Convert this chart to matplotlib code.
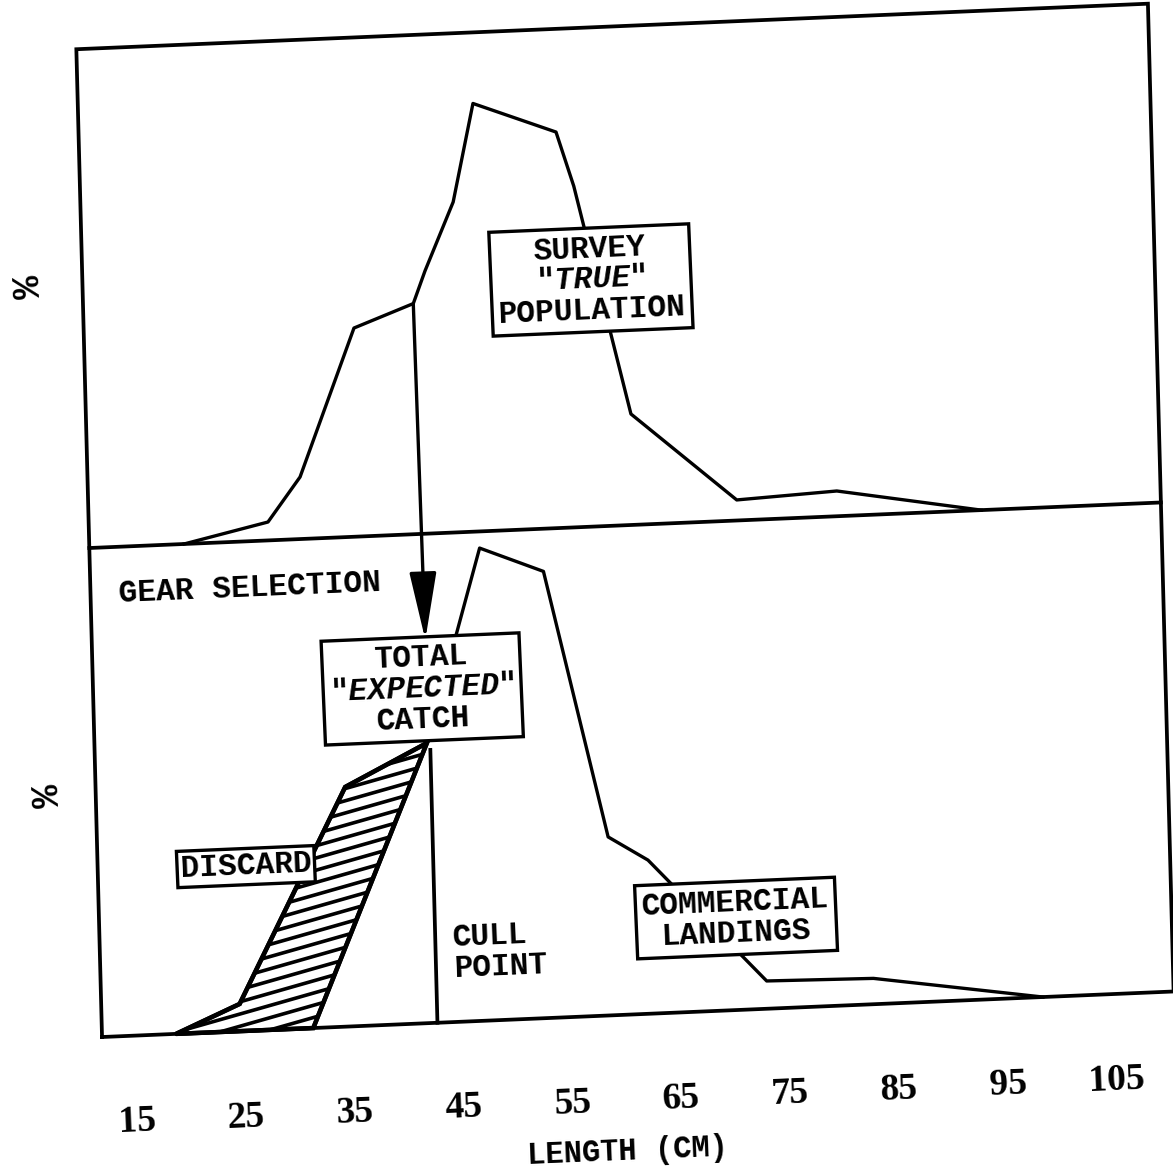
import numpy as np
import matplotlib
matplotlib.use("Agg")
import matplotlib.pyplot as plt
from matplotlib.transforms import Affine2D
from matplotlib.patches import Polygon

# ---------------- data (length in cm, percent) ----------------
survey_len = [20.7, 28.45, 31.5, 36.8, 42.3, 43.45, 46.2, 48.25, 55.8, 57.3, 62.0, 71.5, 80.7, 93.9]
survey_pct = [0.0, 0.94, 3.17, 10.66, 11.78, 13.42, 16.88, 21.87, 20.23, 17.43, 5.67, 1.05, 1.29, 0.0]

catch_len = [18.8, 24.7, 34.9, 42.5, 47.8, 53.6, 58.9, 62.5, 73.1, 82.9, 98.4]
catch_pct = [0.0, 1.39, 12.24, 14.31, 24.15, 22.82, 9.12, 7.85, 1.42, 1.32, 0.0]

discard_edge_len = [42.5, 31.4]
discard_edge_pct = [14.31, 0.0]

cull_point = 42.8
cull_top_pct = 13.95
arrow_end_len = 42.6
arrow_end_pct = 19.58

tick_values = [15, 25, 35, 45, 55, 65, 75, 85, 95, 105]

PANEL = 25.0          # height of one panel in %
TOP = 50.5
XMIN, XMAX = 12.0, 110.4

# ---------------- style ----------------
plt.rcParams['mathtext.fontset'] = 'custom'
plt.rcParams['mathtext.rm'] = 'Liberation Mono:bold'
plt.rcParams['mathtext.it'] = 'Liberation Mono:italic:bold'
plt.rcParams['mathtext.bf'] = 'Liberation Mono:bold'

fig = plt.figure(figsize=(11.73, 11.71), dpi=100)
ax = fig.add_axes([0, 0, 1, 1])
ax.set_xlim(0, 1173)
ax.set_ylim(1171, 0)
ax.axis('off')

# the scanned page is slightly tilted: chart coords (cm, %) -> page
T = Affine2D.from_values(10.89, -0.4628, -0.5086, -19.56, -28.65, 1042.57) + ax.transData
ANG = 2.43

LW = 2.4
# frame and divider
ax.plot([XMIN, XMAX, XMAX, XMIN, XMIN], [0, 0, TOP, TOP, 0], color='k', lw=2.7,
        transform=T, solid_joinstyle='miter', zorder=2)
ax.plot([XMIN, XMAX], [PANEL, PANEL], color='k', lw=2.7, transform=T, zorder=2)

# survey ("true") population in upper panel
ax.plot(survey_len, np.array(survey_pct) + PANEL, color='k', lw=LW, transform=T, zorder=3)

# total expected catch in lower panel
ax.plot(catch_len, catch_pct, color='k', lw=LW, transform=T, zorder=3)

# discard region (hatched)
n_disc = 4
poly_pts = list(zip(catch_len[:n_disc], catch_pct[:n_disc])) + \
    list(zip(discard_edge_len[1:], discard_edge_pct[1:]))
disc = Polygon(poly_pts, closed=True, fc='white', ec='k', lw=LW + 0.8,
               transform=T, zorder=3.5)
ax.add_patch(disc)
uu = np.array([14.0, 48.0])
for c in np.arange(-8, 18, 0.62):
    ln, = ax.plot(uu, c + 0.134 * (uu - 14.0), color='k', lw=2.6, transform=T, zorder=3.6)
    ln.set_clip_path(disc)
ax.add_patch(Polygon(poly_pts, closed=True, fill=False, ec='k', lw=LW + 0.8,
                     transform=T, zorder=3.7))

# cull point line
ax.plot([cull_point, cull_point], [0, cull_top_pct], color='k', lw=LW + 0.3,
        transform=T, zorder=3)

# gear selection arrow
ax.annotate('', xy=(arrow_end_len, arrow_end_pct),
            xytext=(survey_len[4], survey_pct[4] + PANEL),
            xycoords=T, textcoords=T,
            arrowprops=dict(arrowstyle='-|>,head_length=2.1,head_width=0.42',
                            color='k', lw=LW, shrinkA=0, shrinkB=0,
                            mutation_scale=20),
            zorder=4)

# ---------------- text ----------------
FS = 22.5
tk = dict(family='Liberation Mono', weight='bold', fontsize=FS, transform=T,
          rotation=ANG, rotation_mode='anchor', ha='center', va='center',
          linespacing=1.03, zorder=6)
box = dict(boxstyle='square,pad=0.2', fc='white', ec='k', lw=2.4)

ax.text(58.65, 37.6, 'SURVEY\n"$\\mathit{TRUE}$"\nPOPULATION', bbox=box,
        multialignment='center', **tk)
ax.text(26.6, 22.6, 'GEAR SELECTION', **tk)
ax.text(42.2, 17.08, 'TOTAL\n"$\\mathit{EXPECTED}$"\nCATCH', bbox=box,
        multialignment='center', **tk)
ax.text(25.6, 8.39, 'DISCARD', bbox=dict(boxstyle='square,pad=0.1', fc='white',
                                          ec='k', lw=2.4), **tk)
tk_left = dict(tk)
tk_left['ha'] = 'left'
ax.text(44.44, 3.5, 'CULL\nPOINT', multialignment='left', **tk_left)
ax.text(70.44, 4.70, 'COMMERCIAL\nLANDINGS', bbox=box, multialignment='center', **tk)

for t in tick_values:
    ax.text(t, -4.41, str(t), family='Liberation Serif', weight='bold', fontsize=27,
            transform=T, rotation=ANG, rotation_mode='anchor', ha='center', va='center')

ax.text(59.9, -7.0, 'LENGTH (CM)', family='Liberation Mono', weight='bold', fontsize=22,
        transform=T, rotation=ANG, rotation_mode='anchor', ha='center', va='center')

for (u, v) in [(7.1, 38.47), (7.7, 12.44)]:
    ax.text(u, v, '%', family='Liberation Mono', weight='bold', fontsize=28,
            transform=T, rotation=90 + ANG, rotation_mode='anchor',
            ha='center', va='center')

fig.savefig('out.png', dpi=100, facecolor='white')
